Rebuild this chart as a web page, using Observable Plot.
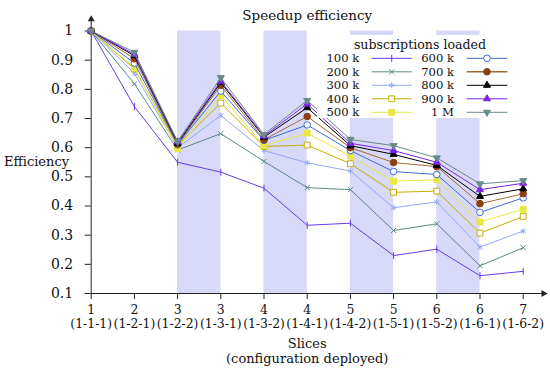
<!DOCTYPE html>
<html>
<head>
<meta charset="utf-8">
<script src="https://cdn.jsdelivr.net/npm/d3@7"></script>
<script src="https://cdn.jsdelivr.net/npm/@observablehq/plot@0.6"></script>
<style>
  html, body { margin: 0; padding: 0; background: #fff; }
  #chart svg { display: block; }
</style>
</head>
<body>
<div id="chart"></div>
<script>
// ---- data ----
const positions = [1, 2, 3, 4, 5, 6, 7, 8, 9, 10, 11];
const sliceNumbers = ["1", "2", "3", "3", "4", "4", "5", "5", "6", "6", "7"];
const sliceConfigs = ["(1-1-1)", "(1-2-1)", "(1-2-2)", "(1-3-1)", "(1-3-2)", "(1-4-1)", "(1-4-2)", "(1-5-1)", "(1-5-2)", "(1-6-1)", "(1-6-2)"];
const bandStarts = [3, 5, 7, 9];
const bandEnds = [4, 6, 8, 10];
const yTicks = [0.1, 0.2, 0.3, 0.4, 0.5, 0.6, 0.7, 0.8, 0.9, 1];

const seriesNames = ["100 k", "200 k", "300 k", "400 k", "500 k", "600 k", "700 k", "800 k", "900 k", "1 M"];
const s100k = [1, 0.741, 0.550, 0.516, 0.461, 0.334, 0.341, 0.230, 0.252, 0.161, 0.176];
const s200k = [1, 0.819, 0.592, 0.648, 0.553, 0.463, 0.456, 0.316, 0.339, 0.195, 0.257];
const s300k = [1, 0.855, 0.600, 0.710, 0.590, 0.548, 0.520, 0.394, 0.414, 0.259, 0.314];
const s400k = [1, 0.870, 0.608, 0.753, 0.604, 0.609, 0.545, 0.447, 0.451, 0.307, 0.364];
const s500k = [1, 0.874, 0.597, 0.779, 0.607, 0.650, 0.571, 0.485, 0.490, 0.345, 0.389];
const s600k = [1, 0.890, 0.610, 0.794, 0.625, 0.678, 0.590, 0.518, 0.508, 0.378, 0.428];
const s700k = [1, 0.905, 0.612, 0.814, 0.627, 0.707, 0.600, 0.549, 0.535, 0.408, 0.442];
const s800k = [1, 0.915, 0.615, 0.823, 0.636, 0.737, 0.607, 0.577, 0.539, 0.433, 0.459];
const s900k = [1, 0.920, 0.620, 0.828, 0.640, 0.750, 0.615, 0.590, 0.550, 0.456, 0.478];
const s1M   = [1, 0.927, 0.621, 0.840, 0.645, 0.762, 0.628, 0.607, 0.565, 0.476, 0.487];
const seriesValues = [s100k, s200k, s300k, s400k, s500k, s600k, s700k, s800k, s900k, s1M];

// ---- styles ----
const FONT = "DejaVu Serif";
const vbar = {draw(ctx, size) { const r = Math.sqrt(size) / 1.6; ctx.moveTo(0, -r); ctx.lineTo(0, r); }};
const styles = [
  {color: "#6a3be6", symbol: vbar, fill: "none", stroke: "#6a3be6", r: 3.2},
  {color: "#5a8a84", symbol: "times", fill: "none", stroke: "#5a8a84", r: 2.4},
  {color: "#94a8f5", symbol: "asterisk", fill: "none", stroke: "#94a8f5", r: 2.8},
  {color: "#c2b000", symbol: "square", fill: "white", stroke: "#c2b000", r: 3.3},
  {color: "#e8e840", symbol: "square", fill: "#e8e840", stroke: "#e8e840", r: 3.3},
  {color: "#3f6ad8", symbol: "circle", fill: "white", stroke: "#3f6ad8", r: 3.3},
  {color: "#a06a30", symbol: "circle", fill: "#8b3e10", stroke: "#8b3e10", r: 3.3},
  {color: "#000000", symbol: "triangle", fill: "#000000", stroke: "#000000", r: 2.6},
  {color: "#7a24e8", symbol: "triangle", fill: "#7a24e8", stroke: "#7a24e8", r: 2.6},
  {color: "#6a8a8a", symbol: "triangle", fill: "#6a8a8a", stroke: "#6a8a8a", r: 2.6, rotate: 180}
];

const bands = bandStarts.map((s, i) => ({x1: s, x2: bandEnds[i]}));

const marks = [
  Plot.rect(bands, {x1: "x1", x2: "x2", y1: 0.1, y2: 1, fill: "#d8d8f8"}),
  // axes lines with arrowheads
  Plot.ruleY([0.1], {x1: 1, x2: 11.45, stroke: "#222", strokeWidth: 1}),
  Plot.ruleX([1], {y1: 0.1, y2: 1.035, stroke: "#222", strokeWidth: 1}),
  Plot.dot([{x: 11.47, y: 0.1}], {x: "x", y: "y", symbol: "triangle", r: 2.6, fill: "#222", stroke: "none", rotate: 90}),
  Plot.dot([{x: 1, y: 1.04}], {x: "x", y: "y", symbol: "triangle", r: 2.6, fill: "#222", stroke: "none"}),
  Plot.axisY({ticks: yTicks, tickFormat: d => String(+d.toFixed(1)), tickSize: 6, tickPadding: 12,
              fontSize: 14, fontFamily: FONT, label: null, stroke: "#222", color: "#111"}),
  Plot.axisX({ticks: positions, tickFormat: d => sliceNumbers[d - 1],
              tickSize: 6, tickPadding: 6, fontSize: 12.4, fontFamily: FONT, label: null, stroke: "#222", color: "#111"}),
  Plot.axisX({ticks: positions, tickFormat: d => sliceConfigs[d - 1],
              tickSize: 0, tickPadding: 26, fontSize: 12.4, fontFamily: FONT, label: null, color: "#111"}),
  Plot.text(["Speedup efficiency"], {frameAnchor: "top", dy: -20.5, fontSize: 13.5, fontFamily: FONT, fill: "#111"}),
  Plot.text(["Efficiency"], {frameAnchor: "left", dx: -54.7, textAnchor: "middle", fontSize: 13, fontFamily: FONT, fill: "#111"}),
  Plot.text(["Slices"], {frameAnchor: "bottom", dy: 54.5, fontSize: 13, fontFamily: FONT, fill: "#111"}),
  Plot.text(["(configuration deployed)"], {frameAnchor: "bottom", dy: 69.5, fontSize: 13, fontFamily: FONT, fill: "#111"})
];

seriesValues.forEach((vals, k) => {
  const st = styles[k];
  const rows = positions.map((p, i) => ({x: p, y: vals[i]}));
  marks.push(Plot.line(rows, {x: "x", y: "y", stroke: st.color, strokeWidth: 1}));
  const dotOpts = {x: "x", y: "y", symbol: st.symbol, r: st.r, fill: st.fill, stroke: st.stroke, strokeWidth: 1};
  if (st.rotate) dotOpts.rotate = st.rotate;
  marks.push(Plot.dot(rows, dotOpts));
});

const plot = Plot.plot({
  width: 550,
  height: 373,
  marginLeft: 90.7,
  marginRight: 27.3,
  marginTop: 30.5,
  marginBottom: 80,
  style: {fontFamily: FONT, background: "white"},
  x: {domain: [1, 11], axis: null},
  y: {domain: [0.1, 1], axis: null},
  marks
});
document.getElementById("chart").appendChild(plot);

// ---- legend ----
const svg = d3.select(plot);
const lg = svg.append("g").attr("font-family", FONT).attr("font-size", 11.6).attr("fill", "#111");
lg.append("rect").attr("x", 317).attr("y", 35).attr("width", 203).attr("height", 83).attr("fill", "white");
lg.append("text").attr("x", 420).attr("y", 44.5).attr("dy", "0.32em").attr("text-anchor", "middle")
  .attr("font-size", 12.6).text("subscriptions loaded");
const colLabelRight = [359.3, 454];
const colLine = [[371.7, 411.7], [466.7, 507.3]];
seriesNames.forEach((name, k) => {
  const col = Math.floor(k / 5), row = k % 5;
  const y = 58.3 + row * 13.5;
  const st = styles[k];
  lg.append("text").attr("x", colLabelRight[col]).attr("y", y).attr("dy", "0.32em").attr("text-anchor", "end").text(name);
  lg.append("line").attr("x1", colLine[col][0]).attr("x2", colLine[col][1]).attr("y1", y).attr("y2", y)
    .attr("stroke", st.color).attr("stroke-width", k === 6 ? 1.6 : 1);
  const cx = (colLine[col][0] + colLine[col][1]) / 2;
  const sym = typeof st.symbol === "string"
    ? {circle: d3.symbolCircle, square: d3.symbolSquare, triangle: d3.symbolTriangle, times: d3.symbolTimes, asterisk: d3.symbolAsterisk}[st.symbol]
    : st.symbol;
  lg.append("path").attr("d", d3.symbol(sym, Math.PI * st.r * st.r)())
    .attr("transform", `translate(${cx},${y})` + (st.rotate ? ` rotate(${st.rotate})` : ""))
    .attr("fill", st.fill).attr("stroke", st.stroke).attr("stroke-width", 1);
});
</script>
</body>
</html>
